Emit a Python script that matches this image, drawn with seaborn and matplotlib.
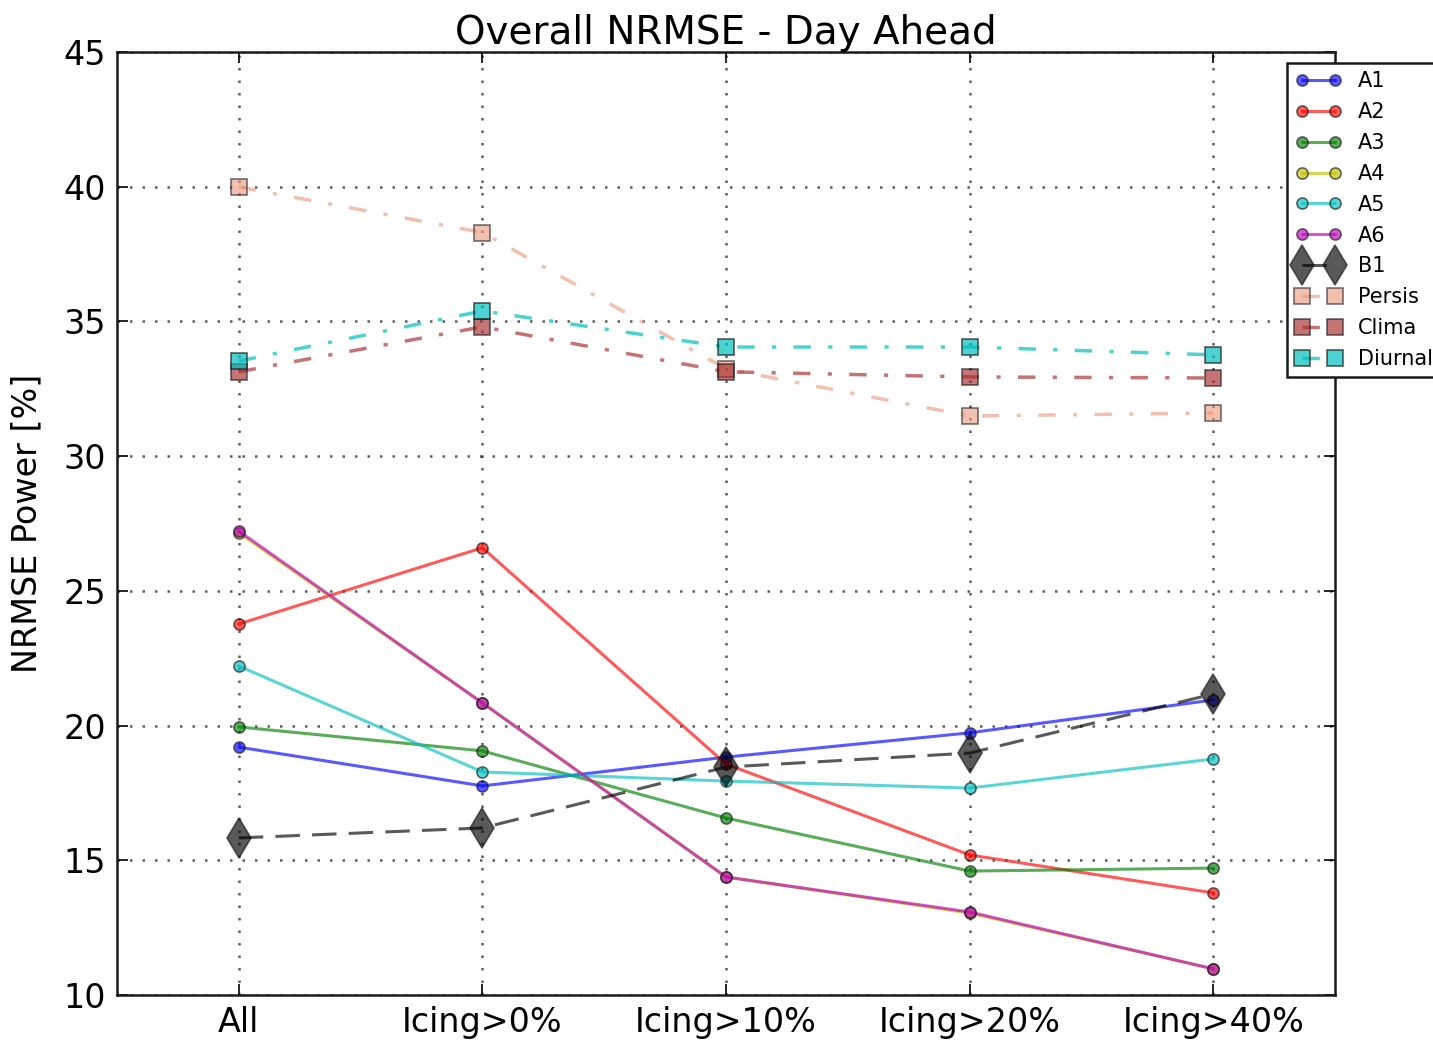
import numpy as np
import pandas as pd
import matplotlib
matplotlib.use("Agg")
import matplotlib.pyplot as plt
import seaborn as sns

categories = ["All", "Icing>0%", "Icing>10%", "Icing>20%", "Icing>40%"]
A1 = [19.2, 17.76, 18.83, 19.73, 20.95]
A2 = [23.77, 26.6, 18.57, 15.2, 13.79]
A3 = [19.95, 19.06, 16.57, 14.6, 14.71]
A4 = [27.15, 20.84, 14.38, 13.04, 10.97]
A5 = [22.21, 18.28, 17.94, 17.68, 18.76]
A6 = [27.22, 20.84, 14.38, 13.08, 10.97]
B1 = [15.83, 16.2, 18.46, 18.98, 21.17]
Persis = [39.99, 38.3, 33.24, 31.49, 31.6]
Clima = [33.13, 34.8, 33.13, 32.94, 32.9]
Diurnal = [33.53, 35.39, 34.05, 34.05, 33.76]

sns.set_theme(style="white")
plt.rcParams['font.family'] = ['DejaVu Sans']
plt.rcParams['text.color'] = 'black'
plt.rcParams['axes.labelcolor'] = 'black'
plt.rcParams['xtick.color'] = 'black'
plt.rcParams['ytick.color'] = 'black'

fig = plt.figure(figsize=(14.33, 10.44), dpi=100)
ax = fig.add_axes([117/1433, 49/1044, (1335-117)/1433, (995-52)/1044])

x = np.arange(len(categories))

dashdot = (0, (5, 5, 1.2, 5))
series = [
    ("A1", A1, dict(color="#0000ff", linestyle="-", marker="o", markersize=8, linewidth=2.2, alpha=0.65)),
    ("A2", A2, dict(color="#ff0000", linestyle="-", marker="o", markersize=8, linewidth=2.2, alpha=0.65)),
    ("A3", A3, dict(color="#008000", linestyle="-", marker="o", markersize=8, linewidth=2.2, alpha=0.65)),
    ("A4", A4, dict(color="#bfbf00", linestyle="-", marker="o", markersize=8, linewidth=2.2, alpha=0.65)),
    ("A5", A5, dict(color="#00bfbf", linestyle="-", marker="o", markersize=8, linewidth=2.2, alpha=0.65)),
    ("A6", A6, dict(color="#bf00bf", linestyle="-", marker="o", markersize=8, linewidth=2.2, alpha=0.65)),
    ("B1", B1, dict(color="#000000", linestyle=(0, (8, 4)), marker="d", markersize=20, linewidth=2.2, alpha=0.65)),
    ("Persis", Persis, dict(color="#e9967a", linestyle=dashdot, marker="s", markersize=12, linewidth=2.5, alpha=0.6)),
    ("Clima", Clima, dict(color="#a52a2a", linestyle=dashdot, marker="s", markersize=12, linewidth=2.5, alpha=0.65)),
    ("Diurnal", Diurnal, dict(color="#00bfbf", linestyle=dashdot, marker="s", markersize=12, linewidth=2.5, alpha=0.7)),
]

for name, vals, st in series:
    df = pd.DataFrame({"x": x, "y": vals})
    sns.lineplot(data=df, x="x", y="y", ax=ax, label=name,
                 markeredgecolor="k", markeredgewidth=1.2, **st)

ax.set_xlim(-0.5, 4.5)
ax.set_ylim(10, 45)
ax.set_xticks(x)
ax.set_xticklabels(categories, fontsize=24)
ax.set_yticks(np.arange(10, 46, 5))
ax.tick_params(axis="y", labelsize=24)
ax.tick_params(direction="in", length=8, width=1.2, top=True, right=True, bottom=True, left=True, pad=8)
ax.grid(True, linestyle=(0, (1, 4)), color="k", linewidth=1.8, alpha=0.7)
for s in ax.spines.values():
    s.set_color("k")
    s.set_linewidth(1.8)
ax.set_xlabel("")
ax.set_ylabel("NRMSE Power [%]", fontsize=24, labelpad=14)
ax.set_title("Overall NRMSE - Day Ahead", fontsize=28, pad=6)

leg = ax.legend(loc="upper left", bbox_to_anchor=(1287/1433, 1 - 63/1044),
                bbox_transform=fig.transFigure, numpoints=2, fontsize=15,
                frameon=True, fancybox=False, handlelength=2.2,
                borderaxespad=0, labelspacing=0.52, borderpad=0.4)
leg.get_frame().set_edgecolor("k")
leg.get_frame().set_linewidth(1.8)
leg.get_frame().set_alpha(1)

fig.savefig("out.png", dpi=100, facecolor="white")
